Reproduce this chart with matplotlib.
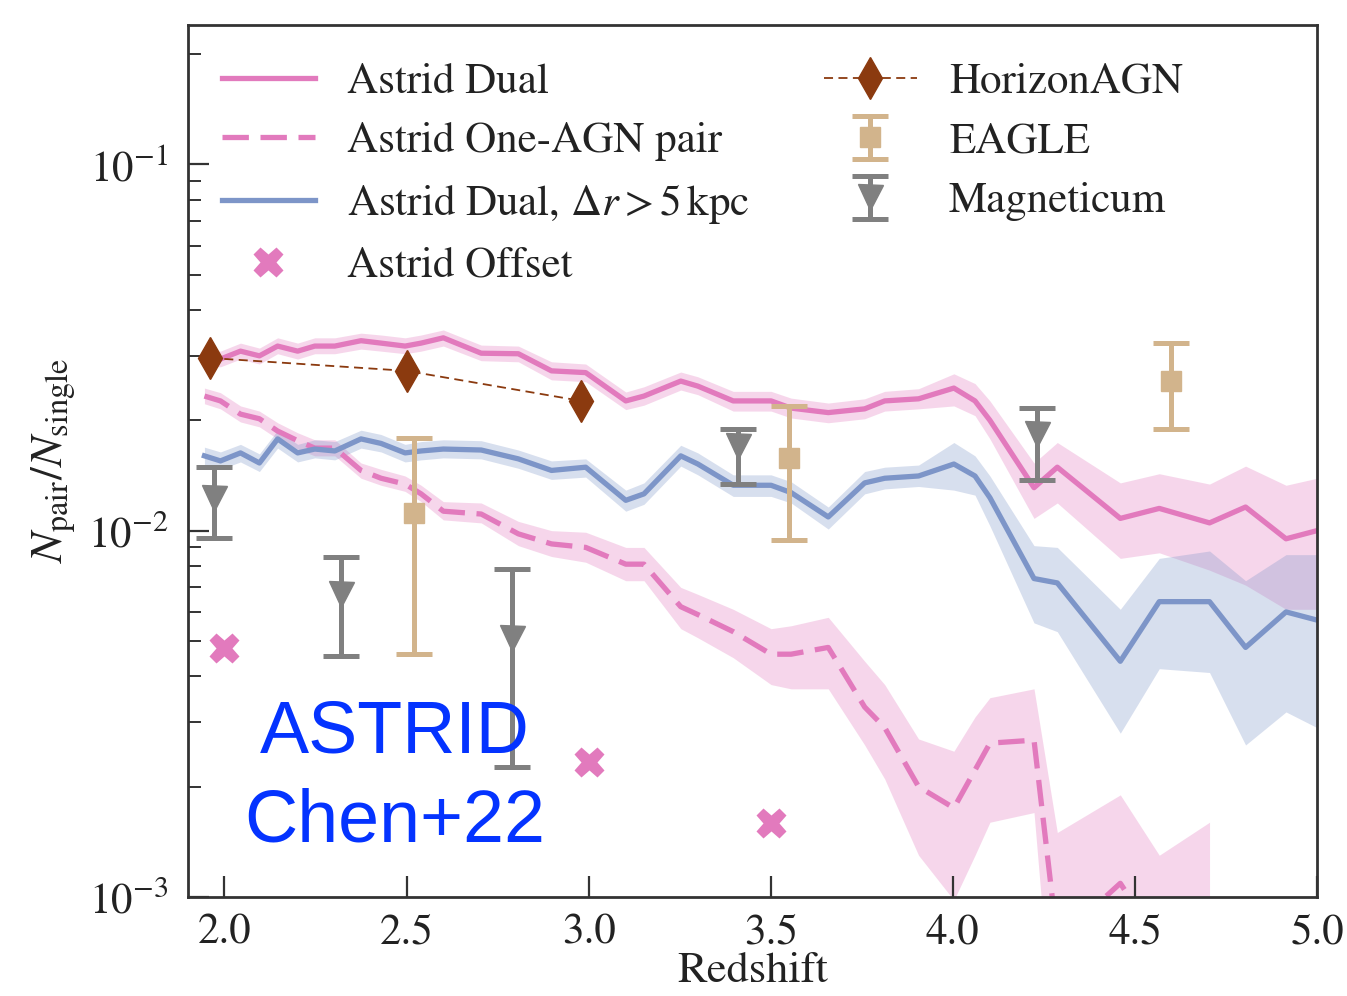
import numpy as np
import matplotlib
matplotlib.use("Agg")
import matplotlib.pyplot as plt

nan = np.nan
# ---------------- data ----------------
z = [1.945, 1.989, 2.044, 2.096, 2.146, 2.201, 2.248, 2.303, 2.375, 2.430,
     2.496, 2.540, 2.601, 2.705, 2.807, 2.898, 2.992, 3.102, 3.152, 3.253,
     3.300, 3.397, 3.501, 3.556, 3.658, 3.758, 3.813, 3.906, 4.003, 4.061,
     4.102, 4.223, 4.287, 4.460, 4.567, 4.705, 4.804, 4.915, 5.000]

dual = [0.0296, 0.0294, 0.0309, 0.0300, 0.0319, 0.0309, 0.0319, 0.0319, 0.0330, 0.0325,
        0.0319, 0.0325, 0.0336, 0.0305, 0.0304, 0.0273, 0.0270, 0.0226, 0.0233, 0.0256,
        0.0248, 0.0226, 0.0226, 0.0216, 0.0210, 0.0215, 0.0226, 0.0229, 0.0245, 0.0226,
        0.0200, 0.0131, 0.0149, 0.0108, 0.0115, 0.0105, 0.0116, 0.0095, 0.0100]
dual_hi = [0.0311, 0.0309, 0.0325, 0.0315, 0.0336, 0.0325, 0.0336, 0.0336, 0.0346, 0.0342,
           0.0336, 0.0342, 0.0353, 0.0321, 0.0319, 0.0289, 0.0285, 0.0239, 0.0247, 0.0271,
           0.0263, 0.0240, 0.0240, 0.0230, 0.0223, 0.0229, 0.0240, 0.0244, 0.0268, 0.0252,
           0.0226, 0.0153, 0.0174, 0.0135, 0.0143, 0.0134, 0.0150, 0.0133, 0.0139]
dual_lo = [0.0282, 0.0280, 0.0294, 0.0285, 0.0304, 0.0294, 0.0304, 0.0304, 0.0313, 0.0309,
           0.0304, 0.0309, 0.0319, 0.0291, 0.0289, 0.0258, 0.0255, 0.0214, 0.0220, 0.0242,
           0.0235, 0.0212, 0.0212, 0.0203, 0.0197, 0.0202, 0.0212, 0.0215, 0.0219, 0.0206,
           0.0178, 0.0108, 0.0119, 0.0084, 0.0087, 0.0078, 0.0071, 0.0061, 0.0061]

one_agn = [0.0233, 0.0226, 0.0208, 0.0202, 0.0187, 0.0176, 0.0168, 0.0168, 0.0146, 0.0139,
           0.0134, 0.0126, 0.0113, 0.0111, 0.0098, 0.0092, 0.0090, 0.0081, 0.0081, 0.0062,
           0.0059, 0.0053, 0.0046, 0.0046, 0.0048, 0.0033, 0.0029, 0.0020, 0.00175, 0.00222,
           0.00263, 0.00268, 0.00076, 0.00109, 0.00075, 0.0005, nan, nan, nan]
one_agn_hi = [0.0245, 0.0238, 0.0219, 0.0212, 0.0197, 0.0185, 0.0177, 0.0177, 0.0153, 0.0147,
              0.0141, 0.0133, 0.0120, 0.0119, 0.0106, 0.0100, 0.0099, 0.0090, 0.0090, 0.0070,
              0.0067, 0.0061, 0.0054, 0.0055, 0.0058, 0.0044, 0.0038, 0.0027, 0.0025, 0.0031,
              0.0035, 0.0037, 0.0015, 0.0019, 0.0013, 0.0016, nan, nan, nan]
one_agn_lo = [0.0222, 0.0215, 0.0198, 0.0192, 0.0178, 0.0167, 0.0160, 0.0160, 0.0139, 0.0133,
              0.0128, 0.0120, 0.0107, 0.0105, 0.0091, 0.0085, 0.0082, 0.0073, 0.0073, 0.0054,
              0.0051, 0.0045, 0.0038, 0.0037, 0.0037, 0.0026, 0.0021, 0.0013, 0.00098, 0.0013,
              0.0016, 0.0017, 0.0003, 0.0003, 0.0003, 0.0003, nan, nan, nan]

dual5 = [0.0160, 0.0155, 0.0163, 0.0153, 0.0178, 0.0163, 0.0167, 0.0165, 0.0178, 0.0173,
         0.0163, 0.0165, 0.0167, 0.0166, 0.0157, 0.0146, 0.0149, 0.0121, 0.0126, 0.0160,
         0.0152, 0.0133, 0.0133, 0.0127, 0.0109, 0.0135, 0.0139, 0.0141, 0.0152, 0.0141,
         0.0123, 0.0074, 0.0072, 0.0044, 0.0064, 0.0064, 0.0048, 0.0060, 0.0057]
dual5_hi = [0.0169, 0.0164, 0.0172, 0.0162, 0.0188, 0.0172, 0.0177, 0.0175, 0.0188, 0.0183,
            0.0172, 0.0175, 0.0177, 0.0176, 0.0166, 0.0155, 0.0157, 0.0129, 0.0135, 0.0171,
            0.0163, 0.0142, 0.0142, 0.0136, 0.0116, 0.0145, 0.0149, 0.0151, 0.0174, 0.0160,
            0.0141, 0.0091, 0.0090, 0.0061, 0.0084, 0.0088, 0.0073, 0.0086, 0.0086]
dual5_lo = [0.0151, 0.0147, 0.0154, 0.0145, 0.0168, 0.0154, 0.0158, 0.0156, 0.0168, 0.0164,
            0.0154, 0.0156, 0.0158, 0.0157, 0.0148, 0.0138, 0.0140, 0.0113, 0.0118, 0.0150,
            0.0142, 0.0124, 0.0124, 0.0119, 0.0101, 0.0126, 0.0130, 0.0132, 0.0129, 0.0125,
            0.0103, 0.0056, 0.0053, 0.0028, 0.0042, 0.0041, 0.0026, 0.0032, 0.0029]

offset_z = [2.0, 3.0, 3.5]
offset_y = [0.00477, 0.00233, 0.00159]

horizon_z = [1.96, 2.50, 2.98]
horizon_y = [0.0296, 0.0273, 0.0226]

eagle_z = [2.52, 3.55, 4.60]
eagle_y = [0.0112, 0.0158, 0.0256]
eagle_hi = [0.0179, 0.0219, 0.0325]
eagle_lo = [0.00462, 0.0094, 0.0190]

magn_z = [1.97, 2.32, 2.79, 3.41, 4.23]
magn_y = [0.0123, 0.00673, 0.00508, 0.01705, 0.01837]
magn_hi = [0.01494, 0.0085, 0.00788, 0.0190, 0.0216]
magn_lo = [0.00957, 0.00454, 0.00226, 0.01343, 0.01377]

xtick_vals = [2.0, 2.5, 3.0, 3.5, 4.0, 4.5, 5.0]
xtick_labels = ['2.0', '2.5', '3.0', '3.5', '4.0', '4.5', '5.0']

# ---------------- style ----------------
plt.rcParams['font.family'] = ['STIXGeneral', 'DejaVu Serif']
plt.rcParams['mathtext.fontset'] = 'stix'
plt.rcParams['font.size'] = 31

pink = '#e27abd'
blue = '#7d95c8'
brown = '#8b3a0f'
tan = '#d2b48c'
gray = '#808080'
txt = '#222222'

fig = plt.figure(figsize=(13.47, 9.96), dpi=100)
ax = fig.add_axes([0.1396, 0.0994, 0.9777 - 0.1396, 0.9749 - 0.0994])

z_a = np.array(z)
ax.fill_between(z_a, dual_lo, dual_hi, color=pink, alpha=0.3, lw=0)
ax.fill_between(z_a, one_agn_lo, one_agn_hi, color=pink, alpha=0.3, lw=0)
ax.fill_between(z_a, dual5_lo, dual5_hi, color=blue, alpha=0.3, lw=0)

h1, = ax.plot(z_a, dual, color=pink, lw=3.8, label='Astrid Dual')
h2, = ax.plot(z_a, one_agn, color=pink, lw=3.8, dashes=(5, 2.2), label='Astrid One-AGN pair')
h3, = ax.plot(z_a, dual5, color=blue, lw=3.8, label=r'Astrid Dual, $\Delta r > 5\,\mathrm{kpc}$')
h4, = ax.plot(offset_z, offset_y, ls='none', marker='X', ms=22, color=pink,
              mec='none', label='Astrid Offset')

h5, = ax.plot(horizon_z, horizon_y, color=brown, lw=1.3, dashes=(5, 3), marker='d',
              ms=21, mec=brown, label='HorizonAGN')

ey = np.array(eagle_y)
h6 = ax.errorbar(eagle_z, ey, yerr=[ey - np.array(eagle_lo), np.array(eagle_hi) - ey],
                 fmt='s', color=tan, ms=15, elinewidth=3.6, capsize=13, capthick=3.6,
                 label='EAGLE')
my = np.array(magn_y)
h7 = ax.errorbar(magn_z, my, yerr=[my - np.array(magn_lo), np.array(magn_hi) - my],
                 fmt='v', color=gray, ms=18, elinewidth=3.6, capsize=13, capthick=3.6,
                 label='Magneticum')

ax.set_yscale('log')
ax.set_xlim(1.9, 5.0)
ax.set_ylim(1e-3, 0.24)
ax.set_xticks(xtick_vals)
ax.set_xticklabels(xtick_labels)
ax.tick_params(which='both', direction='in', top=False, right=False, colors='#333333',
               labelcolor=txt, labelsize=31)
ax.tick_params(which='major', length=15, width=1.6)
ax.tick_params(axis='x', which='major', pad=12)
ax.tick_params(axis='y', which='major', pad=14)
ax.tick_params(which='minor', length=9, width=1.4)
ax.tick_params(axis='x', which='minor', bottom=False)
for s in ax.spines.values():
    s.set_linewidth(2.0)
    s.set_color('#333333')

ax.set_xlabel('Redshift', fontsize=32, labelpad=0, color=txt)
ax.set_ylabel(r'$N_{\rm pair}/N_{\rm single}$', fontsize=33, labelpad=8, color=txt)

leg = ax.legend(handles=[h1, h2, h3, h4, h5, h6, h7], ncol=2, loc='upper left',
                bbox_to_anchor=(0.030, 0.957), frameon=False, fontsize=31,
                handlelength=2.16, handletextpad=0.75, labelspacing=0.48,
                columnspacing=1.72, borderpad=0, borderaxespad=0, numpoints=1)
for t in leg.get_texts():
    t.set_color(txt)

ax.text(0.183, 0.1365, 'ASTRID\nChen+22', transform=ax.transAxes, ha='center',
        va='center', multialignment='center', fontsize=53, color='#0433ff',
        linespacing=1.37, family=['Liberation Sans', 'DejaVu Sans'])

fig.savefig('out.png', dpi=100)
